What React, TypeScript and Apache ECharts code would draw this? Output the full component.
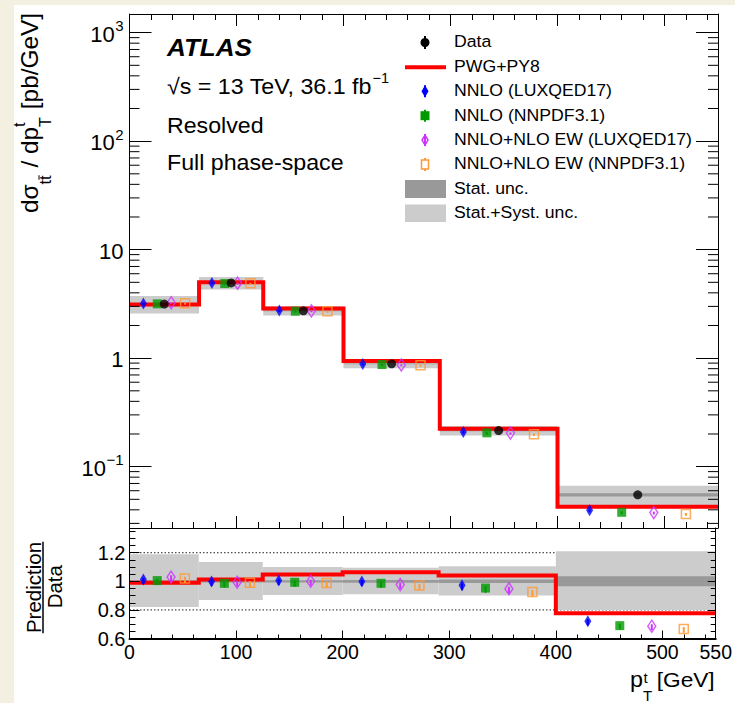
import React, { useEffect, useRef } from "react";
import * as echarts from "echarts";

// Top-quark transverse momentum binning [GeV]
const binEdges = [0, 65, 125, 200, 290, 400, 550];
// Measured dσ/dpT [pb/GeV]
const dataXsec = [3.15, 4.94, 2.73, 0.886, 0.215, 0.055];
// Relative uncertainties of the measurement
const statUnc = [0.008, 0.008, 0.008, 0.01, 0.012, 0.035];
const totUncUp = [0.19, 0.135, 0.1, 0.095, 0.105, 0.21];
const totUncDown = [0.18, 0.13, 0.095, 0.09, 0.1, 0.2];
// Predictions divided by data
const pwgRatio = [0.99, 1.012, 1.048, 1.063, 1.04, 0.777];
const nnloLuxRatio = [1.012, 0.998, 1.005, 0.998, 0.972, 0.721];
const nnloNnpdfRatio = [1.005, 0.986, 0.993, 0.986, 0.953, 0.69];
const ewLuxRatio = [1.03, 0.994, 1.0, 0.977, 0.948, 0.686];
const ewNnpdfRatio = [1.02, 0.99, 0.989, 0.97, 0.925, 0.667];
// Relative scale uncertainty of the fixed-order predictions
const theoryUncUp = [0.012, 0.012, 0.012, 0.012, 0.015, 0.02];
const theoryUncDown = [0.03, 0.03, 0.03, 0.03, 0.035, 0.04];
// Position of each prediction inside its bin (fraction of the bin width)
const theoryPos = [0.2, 0.4, 0.6, 0.8];
// Decade labels of the cross-section axis
const decadeValues = [1000, 100, 10, 1, 0.1];
const decadeMantissa = ["10", "10", "10", "1", "10"];
const decadeExponent = ["3", "2", "", "", "\u22121"];

const Y_MIN = 0.0272;
const Y_MAX = 1486;
const R_MIN = 0.6;
const R_MAX = 1.373;

const FONT = '"Liberation Sans", Arial, Helvetica, sans-serif';
const GRID_L = 129.5;
const GRID_R = 718;
const TOP = 14;
const SPLIT = 528;
const BOTTOM = 638.5;

let measureCtx: CanvasRenderingContext2D | null = null;
function measure(text: string, size: number, weight = "normal", style = "normal") {
  if (!measureCtx) measureCtx = document.createElement("canvas").getContext("2d");
  if (!measureCtx) return text.length * size * 0.55;
  measureCtx.font = `${style} ${weight} ${size}px ${FONT}`;
  return measureCtx.measureText(text).width;
}

const theories = [
  { name: "NNLO (LUXQED17)", ratio: nnloLuxRatio, color: "#0000ff", symbol: "diamond", size: [7, 12], open: false },
  { name: "NNLO (NNPDF3.1)", ratio: nnloNnpdfRatio, color: "#009900", symbol: "rect", size: [9, 9], open: false },
  { name: "NNLO+NLO EW (LUXQED17)", ratio: ewLuxRatio, color: "#cc33ff", symbol: "diamond", size: [8, 12], open: true },
  { name: "NNLO+NLO EW (NNPDF3.1)", ratio: ewNnpdfRatio, color: "#ff9933", symbol: "rect", size: [9, 9], open: true },
];

const posIn = (i: number, f: number) => binEdges[i] + f * (binEdges[i + 1] - binEdges[i]);

function stepPoints(vals: number[]) {
  const pts: number[][] = [];
  vals.forEach((v, i) => {
    pts.push([binEdges[i], v]);
    pts.push([binEdges[i + 1], v]);
  });
  return pts;
}

function bandSeries(name: string, rows: number[][], color: string, xi: number, yi: number, z: number) {
  return {
    type: "custom",
    name,
    xAxisIndex: xi,
    yAxisIndex: yi,
    z,
    silent: true,
    encode: { x: [0, 1], y: [2, 3] },
    data: rows,
    renderItem: (_p: any, api: any) => {
      const a = api.coord([api.value(0), api.value(3)]);
      const b = api.coord([api.value(1), api.value(2)]);
      return {
        type: "rect",
        shape: { x: a[0], y: a[1], width: b[0] - a[0], height: b[1] - a[1] },
        style: { fill: color },
      };
    },
  };
}

function errorBarSeries(rows: number[][], color: string, xi: number, yi: number) {
  return {
    type: "custom",
    xAxisIndex: xi,
    yAxisIndex: yi,
    z: 5,
    silent: true,
    encode: { x: 0, y: [1, 2] },
    data: rows,
    renderItem: (_p: any, api: any) => {
      const a = api.coord([api.value(0), api.value(1)]);
      const b = api.coord([api.value(0), api.value(2)]);
      return {
        type: "line",
        shape: { x1: a[0], y1: a[1], x2: b[0], y2: b[1] },
        style: { stroke: color, lineWidth: 2 },
      };
    },
  };
}

function scatterSeries(name: string, pts: number[][], t: any, xi: number, yi: number) {
  return {
    type: "scatter",
    name,
    xAxisIndex: xi,
    yAxisIndex: yi,
    z: 6,
    silent: true,
    symbol: t.symbol,
    symbolSize: t.size,
    data: pts,
    itemStyle: t.open
      ? { color: "rgba(0,0,0,0)", borderColor: t.color, borderWidth: 1.5 }
      : { color: t.color },
  };
}

function buildOption() {
  const tick = { color: "#000", width: 1 };
  const line = (w = 1) => ({ show: true, onZero: false, lineStyle: { color: "#000", width: w } });
  const noLine = { show: false, onZero: false };
  const xBase = {
    type: "value",
    min: 0,
    max: 550,
    z: 10,
    splitLine: { show: false },
    axisLabel: { show: false },
    axisLine: noLine,
  };
  const xAxis = [
    { ...xBase, gridIndex: 0, position: "bottom", interval: 100, axisLine: line(), axisTick: { inside: true, length: 12, lineStyle: tick } },
    { ...xBase, gridIndex: 0, position: "bottom", interval: 20, axisTick: { inside: true, length: 6, lineStyle: tick } },
    { ...xBase, gridIndex: 0, position: "top", interval: 100, axisLine: line(), axisTick: { inside: true, length: 12, lineStyle: tick } },
    { ...xBase, gridIndex: 0, position: "top", interval: 20, axisTick: { inside: true, length: 6, lineStyle: tick } },
    {
      ...xBase,
      gridIndex: 1,
      position: "bottom",
      interval: 100,
      axisLine: line(2),
      axisTick: { inside: true, length: 8, lineStyle: tick },
      axisLabel: { show: true, margin: 3, fontSize: 19.5, fontFamily: FONT, color: "#000", showMinLabel: true, showMaxLabel: true },
    },
    { ...xBase, gridIndex: 1, position: "bottom", interval: 20, axisTick: { inside: true, length: 4, lineStyle: tick } },
  ];

  const logBase = {
    type: "log",
    logBase: 10,
    min: Y_MIN,
    max: Y_MAX,
    gridIndex: 0,
    z: 10,
    splitLine: { show: false },
    axisLabel: { show: false },
    axisLine: line(),
    axisTick: { inside: true, length: 22, lineStyle: tick },
  };
  const rBase = {
    type: "value",
    min: R_MIN,
    max: R_MAX,
    gridIndex: 1,
    z: 10,
    splitLine: { show: false },
    axisLabel: { show: false },
    axisLine: noLine,
  };
  const yAxis = [
    { ...logBase, position: "left" },
    { ...logBase, position: "right" },
    {
      ...rBase,
      position: "left",
      interval: 0.2,
      axisLine: line(),
      axisTick: { inside: true, length: 10, lineStyle: tick },
      axisLabel: {
        show: true,
        margin: 4,
        fontSize: 20,
        fontFamily: FONT,
        color: "#000",
        showMaxLabel: false,
        formatter: (v: number) => String(Math.round(v * 10) / 10),
      },
    },
    { ...rBase, position: "left", interval: 0.05, axisTick: { inside: true, length: 6, lineStyle: tick } },
    { ...rBase, position: "right", interval: 0.2, axisLine: line(), axisTick: { inside: true, length: 8, lineStyle: tick } },
    { ...rBase, position: "right", interval: 0.05, axisTick: { inside: true, length: 5, lineStyle: tick } },
  ];

  const series: any[] = [];

  // ---------- upper panel: cross section ----------
  series.push(
    bandSeries(
      "Stat.+Syst. unc.",
      dataXsec.map((d, i) => [binEdges[i], binEdges[i + 1], d * (1 - totUncDown[i]), d * (1 + totUncUp[i])]),
      "#cccccc", 0, 0, 2
    )
  );
  series.push(
    bandSeries(
      "Stat. unc.",
      dataXsec.map((d, i) => [binEdges[i], binEdges[i + 1], d * (1 - statUnc[i]), d * (1 + statUnc[i])]),
      "#999999", 0, 0, 3
    )
  );
  series.push({
    type: "line",
    name: "PWG+PY8",
    xAxisIndex: 0,
    yAxisIndex: 0,
    z: 4,
    silent: true,
    symbol: "none",
    data: stepPoints(pwgRatio.map((r, i) => r * dataXsec[i])),
    lineStyle: { color: "#ff0000", width: 4, join: "miter" },
  });
  theories.forEach((t, k) => {
    series.push(
      errorBarSeries(
        t.ratio.map((r, i) => [posIn(i, theoryPos[k]), r * dataXsec[i] * (1 - theoryUncDown[i]), r * dataXsec[i] * (1 + theoryUncUp[i])]),
        t.color, 0, 0
      )
    );
    series.push(scatterSeries(t.name, t.ratio.map((r, i) => [posIn(i, theoryPos[k]), r * dataXsec[i]]), t, 0, 0));
  });
  series.push({
    type: "scatter",
    name: "Data",
    xAxisIndex: 0,
    yAxisIndex: 0,
    z: 7,
    silent: true,
    symbol: "circle",
    symbolSize: 9,
    itemStyle: { color: "#000" },
    data: dataXsec.map((d, i) => [posIn(i, 0.5), d]),
  });

  // minor ticks of the logarithmic axis (2..9 × 10^k) on both sides
  const minorLog: number[][] = [];
  for (let k = -2; k <= 3; k++) {
    for (let m = 2; m <= 9; m++) {
      const v = m * Math.pow(10, k);
      if (v > Y_MIN && v < Y_MAX) minorLog.push([0, v]);
    }
  }
  series.push({
    type: "custom",
    xAxisIndex: 0,
    yAxisIndex: 0,
    z: 11,
    silent: true,
    clip: false,
    encode: { x: 0, y: 1 },
    data: minorLog,
    renderItem: (_p: any, api: any) => {
      const l = api.coord([0, api.value(1)]);
      const r = api.coord([550, api.value(1)]);
      return {
        type: "group",
        children: [
          { type: "line", shape: { x1: l[0], y1: l[1], x2: l[0] + 10, y2: l[1] }, style: { stroke: "#000", lineWidth: 1 } },
          { type: "line", shape: { x1: r[0] - 10, y1: r[1], x2: r[0], y2: r[1] }, style: { stroke: "#000", lineWidth: 1 } },
        ],
      };
    },
  });
  // decade labels 10^n
  series.push({
    type: "custom",
    xAxisIndex: 0,
    yAxisIndex: 0,
    z: 11,
    silent: true,
    clip: false,
    encode: { x: 0, y: 1 },
    data: decadeValues.map((v) => [0, v]),
    renderItem: (p: any, api: any) => {
      const c = api.coord([0, api.value(1)]);
      const right = c[0] - 6;
      const exp = decadeExponent[p.dataIndex];
      const expW = exp ? measure(exp, 15) + 0.5 : 0;
      const children: any[] = [
        {
          type: "text",
          x: right - expW,
          y: c[1] + 1.5,
          style: { text: decadeMantissa[p.dataIndex], fontSize: 22, fontFamily: FONT, fill: "#000", align: "right", verticalAlign: "middle" },
        },
      ];
      if (exp) {
        children.push({
          type: "text",
          x: right,
          y: c[1] - 7,
          style: { text: exp, fontSize: 15, fontFamily: FONT, fill: "#000", align: "right", verticalAlign: "middle" },
        });
      }
      return { type: "group", children };
    },
  });

  // ---------- lower panel: prediction / data ----------
  [1.2, 0.8].forEach((lvl) => {
    series.push({
      type: "line",
      xAxisIndex: 4,
      yAxisIndex: 2,
      z: 1,
      silent: true,
      symbol: "none",
      data: [[0, lvl], [550, lvl]],
      lineStyle: { color: "#222", width: 1, type: [1.5, 2] },
    });
  });
  series.push(
    bandSeries("Stat.+Syst. unc.", dataXsec.map((_d, i) => [binEdges[i], binEdges[i + 1], 1 - totUncDown[i], 1 + totUncUp[i]]), "#cccccc", 4, 2, 2)
  );
  series.push(
    bandSeries("Stat. unc.", dataXsec.map((_d, i) => [binEdges[i], binEdges[i + 1], 1 - statUnc[i], 1 + statUnc[i]]), "#999999", 4, 2, 3)
  );
  series.push({
    type: "line",
    name: "PWG+PY8",
    xAxisIndex: 4,
    yAxisIndex: 2,
    z: 4,
    silent: true,
    symbol: "none",
    data: stepPoints(pwgRatio),
    lineStyle: { color: "#ff0000", width: 4, join: "miter" },
  });
  theories.forEach((t, k) => {
    series.push(
      errorBarSeries(
        t.ratio.map((r, i) => [posIn(i, theoryPos[k]), r * (1 - theoryUncDown[i]), r * (1 + theoryUncUp[i])]),
        t.color, 4, 2
      )
    );
    series.push(scatterSeries(t.name, t.ratio.map((r, i) => [posIn(i, theoryPos[k]), r]), t, 4, 2));
  });

  return {
    animation: false,
    backgroundColor: "#f4f0e1",
    grid: [
      { left: GRID_L, width: GRID_R - GRID_L, top: TOP, height: SPLIT - TOP },
      { left: GRID_L, width: GRID_R - GRID_L, top: SPLIT, height: BOTTOM - SPLIT },
    ],
    xAxis,
    yAxis,
    series,
    graphic: { elements: buildGraphics() },
  };
}

function textEl(text: string, x: number, y: number, size: number, extra: any = {}) {
  return {
    type: "text",
    x,
    y,
    scaleX: extra.scaleX ?? 1,
    rotation: extra.rotation ?? 0,
    z: 30,
    silent: true,
    style: {
      text,
      fontSize: size,
      fontFamily: FONT,
      fontWeight: extra.weight ?? "normal",
      fontStyle: extra.style ?? "normal",
      fill: "#000",
      align: extra.align ?? "left",
      verticalAlign: "middle",
    },
  };
}

function fitted(text: string, x: number, y: number, size: number, width: number, extra: any = {}) {
  const w = measure(text, size, extra.weight ?? "normal", extra.style ?? "normal");
  return textEl(text, x, y, size, { ...extra, scaleX: width / w });
}

function buildGraphics() {
  const els: any[] = [];
  els.push({ type: "rect", z: -10, silent: true, shape: { x: 14, y: 5, width: 721, height: 698 }, style: { fill: "#ffffff" } });

  // labels inside the frame
  els.push(fitted("ATLAS", 167, 48, 23, 85, { weight: "bold", style: "italic" }));
  els.push(fitted("√s = 13 TeV, 36.1 fb", 167, 86.8, 22, 205));
  els.push(textEl("\u22121", 372.5, 78, 14.5));
  els.push(fitted("Resolved", 167, 124.7, 22.5, 96.6));
  els.push(fitted("Full phase-space", 167, 162.5, 22.5, 176.6));

  // legend
  const legSize = 17;
  const legScale = 238 / measure("NNLO+NLO EW (LUXQED17)", legSize);
  const legTexts = [
    "Data",
    "PWG+PY8",
    "NNLO (LUXQED17)",
    "NNLO (NNPDF3.1)",
    "NNLO+NLO EW (LUXQED17)",
    "NNLO+NLO EW (NNPDF3.1)",
    "Stat. unc.",
    "Stat.+Syst. unc.",
  ];
  legTexts.forEach((t, i) => els.push(textEl(t, 454, 41.6 + 24.4 * i, legSize, { scaleX: legScale })));
  const mx = 425;
  const bar = (y: number, color: string, h: number) => ({
    type: "line", z: 30, silent: true,
    shape: { x1: mx, y1: y - h, x2: mx, y2: y + h },
    style: { stroke: color, lineWidth: 2 },
  });
  const rowY = (i: number) => 42.5 + 24.4 * i;
  els.push(bar(rowY(0), "#000", 6.5));
  els.push({ type: "circle", z: 31, silent: true, shape: { cx: mx, cy: rowY(0), r: 4.5 }, style: { fill: "#000" } });
  els.push({ type: "line", z: 30, silent: true, shape: { x1: 405, y1: 67.2, x2: 446, y2: 67.2 }, style: { stroke: "#ff0000", lineWidth: 4 } });
  const diamond = (y: number, w: number, h: number) => [[mx, y - h], [mx + w, y], [mx, y + h], [mx - w, y]];
  els.push(bar(rowY(2), "#0000ff", 6));
  els.push({ type: "polygon", z: 31, silent: true, shape: { points: diamond(rowY(2), 3.5, 6) }, style: { fill: "#0000ff" } });
  els.push(bar(rowY(3), "#009900", 6));
  els.push({ type: "rect", z: 31, silent: true, shape: { x: mx - 4.5, y: rowY(3) - 4.5, width: 9, height: 9 }, style: { fill: "#009900" } });
  els.push(bar(rowY(4), "#cc33ff", 6));
  els.push({ type: "polygon", z: 31, silent: true, shape: { points: diamond(rowY(4), 3, 5) }, style: { fill: "none", stroke: "#cc33ff", lineWidth: 1.5 } });
  els.push(bar(rowY(5), "#ff9933", 6.5));
  els.push({ type: "rect", z: 31, silent: true, shape: { x: mx - 3.5, y: rowY(5) - 4.5, width: 7, height: 9 }, style: { fill: "#ffffff", stroke: "#ff9933", lineWidth: 1.5 } });
  els.push({ type: "rect", z: 30, silent: true, shape: { x: 405, y: 180, width: 41, height: 18 }, style: { fill: "#999999" } });
  els.push({ type: "rect", z: 30, silent: true, shape: { x: 405, y: 204.5, width: 41, height: 17.5 }, style: { fill: "#cccccc" } });

  // x-axis title p_T^t [GeV]
  els.push(fitted("p", 630, 679.3, 22, 13));
  els.push(textEl("t", 643.5, 677, 15));
  els.push(textEl("T", 643, 695, 15));
  els.push(fitted("[GeV]", 656.7, 679.3, 21, 58));

  // y-axis title dσ_tt̄ / dp_T^t [pb/GeV], read bottom to top
  const F = 24;
  const f = 16;
  const wA = measure("dσ", F);
  const wT = measure("t", f);
  const wC = measure(" / dp", F);
  const wD = Math.max(measure("t", f), measure("T", f));
  const wE = measure(" [pb/GeV]", F);
  const x1 = wA;
  const x2 = x1 + 2 * wT + 1;
  const x3 = x2 + wC;
  const x4 = x3 + wD + 1;
  const total = x4 + wE;
  const mid = -0.35 * F;
  const subY = 13 - 0.35 * f;
  const supY = -13 - 0.35 * f;
  els.push({
    type: "group",
    x: 38,
    y: 213,
    rotation: Math.PI / 2,
    scaleX: 200 / total,
    z: 30,
    silent: true,
    children: [
      textEl("dσ", 0, mid, F),
      textEl("t", x1, subY, f),
      textEl("t", x1 + wT, subY, f),
      { type: "line", z: 30, silent: true, shape: { x1: x1 + wT, y1: 13 - 0.75 * f, x2: x1 + 2 * wT, y2: 13 - 0.75 * f }, style: { stroke: "#000", lineWidth: 1 } },
      textEl(" / dp", x2, mid, F),
      textEl("t", x3, supY, f),
      textEl("T", x3, subY, f),
      textEl(" [pb/GeV]", x4, mid, F),
    ],
  });

  // ratio-panel title Prediction / Data
  els.push(textEl("Prediction", 33, 587.5, 20.5, { rotation: Math.PI / 2, align: "center" }));
  els.push({ type: "line", z: 30, silent: true, shape: { x1: 43, y1: 541.7, x2: 43, y2: 633.3 }, style: { stroke: "#000", lineWidth: 1.5 } });
  els.push(textEl("Data", 54, 586.7, 20.5, { rotation: Math.PI / 2, align: "center" }));
  return els;
}

export default function App() {
  const ref = useRef<HTMLDivElement>(null);
  useEffect(() => {
    if (!ref.current) return;
    const chart = echarts.init(ref.current, null, { renderer: "svg" });
    chart.setOption(buildOption() as any);
    return () => chart.dispose();
  }, []);
  return <div ref={ref} style={{ position: "absolute", left: 0, top: 0, width: 735, height: 703 }} />;
}
